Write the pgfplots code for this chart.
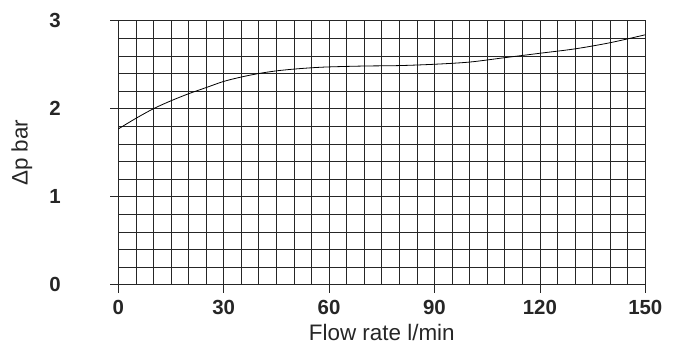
\documentclass[border=0pt]{standalone}
\usepackage{fontspec}
\setmainfont{Liberation Sans}
\usepackage{pgfplots}
\pgfplotsset{compat=1.18}
\begin{document}
\begin{tikzpicture}
\begin{axis}[
  name=ax,
  scale only axis, width=527bp, height=264bp,
  xmin=0, xmax=150, ymin=0, ymax=3,
  xtick={0,30,...,150}, ytick={0,1,2,3},
  minor xtick={0,5,...,150}, minor ytick={0.2,0.4,0.6,0.8,1.2,1.4,1.6,1.8,2.2,2.4,2.6,2.8},
  grid=both,
  grid style={black!85, line width=0.7bp},
  major grid style={black!85, line width=0.7bp},
  minor grid style={black!85, line width=0.7bp},
  axis line style={black!85, line width=0.7bp},
  tick align=outside, tick pos=left,
  major tick length=8bp, minor tick length=0pt,
  tick style={black!85, line width=0.7bp},
  /pgf/number format/assume math mode=true,
  ticklabel style={font=\fontsize{20.5}{24}\selectfont\bfseries, text=black!85},
  yticklabel style={xshift=-46bp},
  xticklabel style={yshift=-4bp},
  xlabel={Flow rate l/min}, ylabel={Δp bar},
  every axis x label/.style={at={(axis description cs:0.5,-0.18)}, anchor=center, font=\fontsize{22.5}{26}\selectfont, text=black!85},
  every axis y label/.style={at={(axis description cs:-0.183,0.5)}, rotate=90, anchor=center, font=\fontsize{22.5}{26}\selectfont, text=black!85},
]
\addplot[black, line width=0.8bp, smooth, tension=0.5] coordinates {
 (0,1.77) (5,1.89) (10,2.00) (15,2.09) (20,2.17) (25,2.24) (30,2.31) (35,2.36)
 (40,2.40) (45,2.43) (50,2.45) (55,2.465) (60,2.475) (70,2.485) (80,2.49)
 (90,2.505) (100,2.53) (110,2.58) (120,2.63) (130,2.68) (140,2.75) (150,2.84)
};
\end{axis}
\path[use as bounding box] (ax.south west) ++(-118.3bp,-64.3bp) rectangle ++(678bp,349bp);
\end{tikzpicture}
\end{document}
